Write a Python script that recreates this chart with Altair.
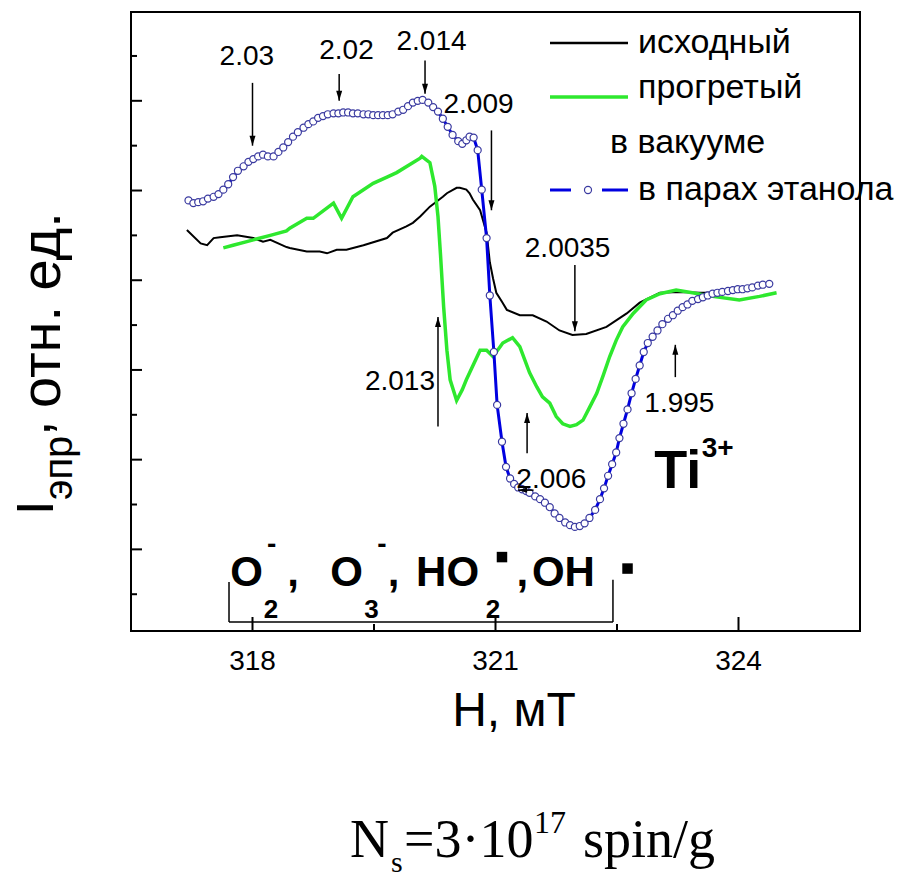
import altair as alt
import pandas as pd

# ---------------- data ----------------
# H, mT  /  I (arb. units)
black_h = [317.19, 317.36, 317.44, 317.52, 317.60, 317.81, 318.01, 318.13, 318.22, 318.42,
           318.46, 318.67, 318.83, 318.92, 319.04, 319.16, 319.37, 319.66, 319.73, 319.90,
           319.98, 320.07, 320.19, 320.35, 320.40, 320.52, 320.56, 320.64, 320.68, 320.72,
           320.81, 320.89, 320.93, 320.97, 321.01, 321.08, 321.14, 321.30, 321.46, 321.63,
           321.79, 321.95, 322.12, 322.37, 322.62, 322.78, 323.03, 323.27, 323.52, 323.68]
black_i = [4.56, 4.41, 4.39, 4.47, 4.48, 4.50, 4.47, 4.43, 4.45, 4.37,
           4.36, 4.32, 4.32, 4.30, 4.34, 4.34, 4.39, 4.47, 4.53, 4.60,
           4.64, 4.71, 4.82, 4.93, 4.97, 5.03, 5.03, 5.01, 4.97, 4.90,
           4.78, 4.53, 4.20, 4.02, 3.86, 3.76, 3.67, 3.61, 3.61, 3.54,
           3.44, 3.39, 3.40, 3.48, 3.63, 3.75, 3.86, 3.87, 3.86, 3.86]

green_h = [317.64, 317.76, 317.93, 318.01, 318.22, 318.42, 318.46, 318.67, 318.75, 319.00,
           319.10, 319.24, 319.49, 319.66, 319.78, 320.07, 320.09, 320.19, 320.25, 320.29,
           320.32, 320.36, 320.40, 320.44, 320.52, 320.59, 320.64, 320.81, 320.89, 320.97,
           321.09, 321.21, 321.30, 321.42, 321.51, 321.58, 321.67, 321.75, 321.83, 321.92,
           322.00, 322.08, 322.16, 322.25, 322.33, 322.41, 322.49, 322.57, 322.70, 322.86,
           323.03, 323.23, 323.43, 323.68, 324.01, 324.26, 324.47]
green_i = [4.36, 4.39, 4.43, 4.45, 4.50, 4.55, 4.58, 4.69, 4.69, 4.86,
           4.69, 4.93, 5.08, 5.15, 5.20, 5.36, 5.38, 5.31, 5.05, 4.71,
           4.30, 3.70, 3.22, 2.89, 2.66, 2.78, 2.89, 3.22, 3.22, 3.15,
           3.30, 3.36, 3.26, 2.97, 2.81, 2.70, 2.63, 2.48, 2.40, 2.37,
           2.39, 2.44, 2.58, 2.74, 2.94, 3.15, 3.33, 3.48, 3.63, 3.78,
           3.85, 3.89, 3.86, 3.82, 3.78, 3.82, 3.86]

blue_h = [317.21, 317.27, 317.33, 317.39, 317.45, 317.52, 317.58, 317.64, 317.70, 317.76,
          317.82, 317.89, 317.95, 318.01, 318.07, 318.13, 318.19, 318.26, 318.32, 318.38,
          318.44, 318.50, 318.56, 318.63, 318.69, 318.75, 318.81, 318.87, 318.93, 319.00,
          319.06, 319.12, 319.18, 319.24, 319.30, 319.37, 319.43, 319.49, 319.55, 319.61,
          319.67, 319.73, 319.80, 319.86, 319.92, 319.98, 320.04, 320.10, 320.17, 320.23,
          320.29, 320.35, 320.41, 320.47, 320.54, 320.59, 320.64, 320.68, 320.73, 320.78,
          320.83, 320.89, 320.93, 320.98, 321.02, 321.08, 321.13, 321.18, 321.23, 321.28,
          321.33, 321.38, 321.42, 321.49, 321.55, 321.61, 321.67, 321.73, 321.79, 321.86,
          321.92, 321.98, 322.04, 322.10, 322.16, 322.23, 322.29, 322.34, 322.39, 322.44,
          322.49, 322.53, 322.58, 322.63, 322.68, 322.73, 322.78, 322.83, 322.88, 322.94,
          323.00, 323.06, 323.13, 323.19, 323.25, 323.31, 323.37, 323.43, 323.50, 323.56,
          323.62, 323.68, 323.74, 323.80, 323.87, 323.93, 323.99, 324.05, 324.11, 324.17,
          324.24, 324.30, 324.38]
blue_i = [4.89, 4.86, 4.87, 4.88, 4.91, 4.93, 4.96, 5.01, 5.07, 5.15,
          5.22, 5.27, 5.32, 5.35, 5.38, 5.40, 5.38, 5.38, 5.43, 5.48,
          5.54, 5.60, 5.65, 5.70, 5.74, 5.77, 5.81, 5.83, 5.85, 5.86,
          5.86, 5.87, 5.87, 5.86, 5.86, 5.85, 5.85, 5.84, 5.84, 5.84,
          5.84, 5.85, 5.88, 5.90, 5.94, 5.98, 6.00, 6.01, 5.98, 5.93,
          5.88, 5.80, 5.71, 5.62, 5.55, 5.52, 5.56, 5.60, 5.59, 5.45,
          5.01, 4.47, 3.83, 3.20, 2.61, 2.20, 1.92, 1.79, 1.73, 1.69,
          1.67, 1.65, 1.63, 1.59, 1.56, 1.52, 1.47, 1.40, 1.35, 1.30,
          1.27, 1.25, 1.26, 1.29, 1.35, 1.44, 1.56, 1.68, 1.82, 1.95,
          2.08, 2.24, 2.40, 2.56, 2.74, 2.90, 3.05, 3.20, 3.30, 3.37,
          3.44, 3.51, 3.57, 3.61, 3.66, 3.70, 3.73, 3.77, 3.79, 3.81,
          3.83, 3.85, 3.86, 3.87, 3.88, 3.89, 3.90, 3.90, 3.91, 3.92,
          3.94, 3.95, 3.96]

# g-factor labels and their arrows
g_text = ["2.03", "2.02", "2.014", "2.009", "2.0035", "2.013", "2.006", "1.995"]
g_h = [317.93, 319.16, 320.21, 320.79, 321.89, 319.82, 321.69, 323.27]
g_i = [6.40, 6.47, 6.57, 5.86, 4.26, 2.78, 1.68, 2.53]
arrow_h = [318.00, 319.07, 320.13, 320.95, 321.98, 320.29, 321.39, 323.22]
arrow_from = [6.20, 6.30, 6.45, 5.67, 4.17, 2.37, 2.07, 2.92]
arrow_to = [5.50, 6.00, 6.08, 4.78, 3.43, 3.59, 2.52, 3.28]
leader_from_h, leader_to_h, leader_i = 321.47, 321.28, 1.66

# axis ticks
x_major = [318, 321, 324]
x_minor = [319.5, 322.5]
y_major = [1, 2, 3, 4, 5, 6]
y_minor = [0.5, 1.5, 2.5, 3.5, 4.5, 5.5, 6.5]

# ---------------- styling ----------------
SANS = "Liberation Sans, Arial, sans-serif"
SERIF = "Liberation Serif, Times New Roman, serif"
GREEN = "#2ee82e"
BLUE = "#0000e0"
NAVY = "#3a3aa0"
W, H = 729, 619

xs = alt.Scale(domain=[316.5, 325.5], nice=False, zero=False)
ys = alt.Scale(domain=[0.09, 6.99], nice=False, zero=False)


def X(f):
    return alt.X(f, type="quantitative", scale=xs, axis=None)


def Y(f):
    return alt.Y(f, type="quantitative", scale=ys, axis=None)


ONE = alt.Data(values=[{"k": 0}])


def ptext(txt, x, y, size, font=SANS, angle=0, weight="normal", align="left"):
    return alt.Chart(ONE).mark_text(text=txt, font=font, fontSize=size, angle=angle,
                                    fontWeight=weight, align=align, baseline="alphabetic",
                                    color="black").encode(x=alt.value(x), y=alt.value(y))


def dtext(txt, h, i, size, weight="bold", align="left", font=SANS):
    return alt.Chart(pd.DataFrame({"h": [h], "i": [i]})).mark_text(
        text=txt, font=font, fontSize=size, fontWeight=weight,
        align=align, baseline="alphabetic", color="black").encode(x=X("h"), y=Y("i"))


layers = []

# inward ticks
layers.append(alt.Chart(pd.DataFrame({"v": x_major})).mark_rule(color="black", strokeWidth=2).encode(
    x=X("v"), y=alt.value(H), y2=alt.value(H - 14)))
layers.append(alt.Chart(pd.DataFrame({"v": x_minor})).mark_rule(color="black", strokeWidth=2).encode(
    x=X("v"), y=alt.value(H), y2=alt.value(H - 7)))
layers.append(alt.Chart(pd.DataFrame({"v": y_major})).mark_rule(color="black", strokeWidth=2).encode(
    y=Y("v"), x=alt.value(0), x2=alt.value(11)))
layers.append(alt.Chart(pd.DataFrame({"v": y_minor})).mark_rule(color="black", strokeWidth=2).encode(
    y=Y("v"), x=alt.value(0), x2=alt.value(6)))
# x tick labels
layers.append(alt.Chart(pd.DataFrame({"v": x_major})).mark_text(
    font=SANS, fontSize=28, align="center", baseline="alphabetic", color="black").encode(
    x=X("v"), y=alt.value(H + 39), text=alt.Text("v:Q", format="d")))

# spectra
layers.append(alt.Chart(pd.DataFrame({"h": black_h, "i": black_i})).mark_line(
    color="black", strokeWidth=2).encode(x=X("h"), y=Y("i")))
layers.append(alt.Chart(pd.DataFrame({"h": green_h, "i": green_i})).mark_line(
    color=GREEN, strokeWidth=3.5).encode(x=X("h"), y=Y("i")))
blue_df = pd.DataFrame({"h": blue_h, "i": blue_i})
layers.append(alt.Chart(blue_df).mark_line(color=BLUE, strokeWidth=3).encode(x=X("h"), y=Y("i")))
layers.append(alt.Chart(blue_df).mark_point(shape="circle", filled=True, fill="white", stroke=NAVY,
                                            strokeWidth=1.2, size=50, opacity=1).encode(
    x=X("h"), y=Y("i")))

# arrows
arr = pd.DataFrame({"h": arrow_h, "a": arrow_from, "b": arrow_to})
layers.append(alt.Chart(arr).mark_rule(color="black", strokeWidth=1.5).encode(
    x=X("h"), y=Y("a"), y2=alt.Y2("b")))
down = arr[arr["b"] < arr["a"]].reset_index(drop=True)
up = arr[arr["b"] > arr["a"]].reset_index(drop=True)
layers.append(alt.Chart(down).mark_point(shape="M -0.6 -2 L 0.6 -2 L 0 0 Z", filled=True, size=100,
                                         color="black", opacity=1).encode(x=X("h"), y=Y("b")))
layers.append(alt.Chart(up).mark_point(shape="M -0.6 2 L 0.6 2 L 0 0 Z", filled=True, size=100,
                                       color="black", opacity=1).encode(x=X("h"), y=Y("b")))
lead = pd.DataFrame({"h1": [leader_from_h], "h2": [leader_to_h], "i": [leader_i]})
layers.append(alt.Chart(lead).mark_rule(color="black", strokeWidth=1.5).encode(
    x=X("h1"), x2=alt.X2("h2"), y=Y("i")))
layers.append(alt.Chart(lead).mark_point(shape="M 2 -0.6 L 2 0.6 L 0 0 Z", filled=True, size=80,
                                         color="black", opacity=1).encode(x=X("h2"), y=Y("i")))

# g-factor labels
layers.append(alt.Chart(pd.DataFrame({"t": g_text, "h": g_h, "i": g_i})).mark_text(
    font=SANS, fontSize=28, align="center", baseline="alphabetic", color="black").encode(
    x=X("h"), y=Y("i"), text="t:N"))

# Ti3+
layers.append(dtext("Ti", 323.25, 1.68, 54, align="center"))
layers.append(dtext("3+", 323.545, 2.03, 28))

# radicals label with bracket
for t, h, i, s in [("O", 317.725, 0.59, 42), ("2", 318.14, 0.234, 26), ("-", 318.18, 0.96, 28),
                   (",", 318.43, 0.59, 42), ("O", 318.96, 0.59, 42), ("3", 319.38, 0.234, 26),
                   ("-", 319.54, 0.96, 28), (",", 319.67, 0.59, 42), ("HO", 320.02, 0.59, 42),
                   ("2", 320.88, 0.234, 26), (",", 321.26, 0.59, 42), ("OH", 321.45, 0.59, 42)]:
    layers.append(dtext(t, h, i, s))
dots = pd.DataFrame({"h": [321.08, 322.63], "i": [0.914, 0.786]})
layers.append(alt.Chart(dots).mark_point(shape="square", filled=True, size=110, color="black",
                                         opacity=1).encode(x=X("h"), y=Y("i")))
br = pd.DataFrame({"h1": [317.71, 317.71, 322.45], "h2": [317.71, 322.45, 322.45],
                   "i1": [0.635, 0.19, 0.19], "i2": [0.19, 0.19, 0.66]})
layers.append(alt.Chart(br).mark_rule(color="black", strokeWidth=1.5).encode(
    x=X("h1"), x2=alt.X2("h2"), y=Y("i1"), y2=alt.Y2("i2")))

# legend
layers.append(alt.Chart(ONE).mark_rule(color="black", strokeWidth=2.5).encode(
    x=alt.value(419), x2=alt.value(497), y=alt.value(31)))
layers.append(alt.Chart(ONE).mark_rule(color=GREEN, strokeWidth=3.5).encode(
    x=alt.value(419), x2=alt.value(497), y=alt.value(85)))
layers.append(alt.Chart(ONE).mark_rule(color=BLUE, strokeWidth=3).encode(
    x=alt.value(419), x2=alt.value(440), y=alt.value(178)))
layers.append(alt.Chart(ONE).mark_rule(color=BLUE, strokeWidth=3).encode(
    x=alt.value(471), x2=alt.value(497), y=alt.value(178)))
layers.append(alt.Chart(ONE).mark_point(shape="circle", filled=True, fill="white", stroke=NAVY,
                                        strokeWidth=1.2, size=50, opacity=1).encode(
    x=alt.value(457), y=alt.value(178)))
layers.append(ptext("исходный", 507, 41, 34))
layers.append(ptext("прогретый", 507, 86, 34))
layers.append(ptext("в вакууме", 479, 141, 34))
layers.append(ptext("в парах этанола", 507, 188, 34))

# axis titles
layers.append(ptext("H, мТ", 383, 714, 48, align="center"))
layers.append(ptext("I", -78, 503, 52, angle=270))
layers.append(ptext("эпр", -59, 488, 40, angle=270))
layers.append(ptext(",", -81, 424, 56, angle=270))
layers.append(ptext("отн. ед.", -71, 396, 56, angle=270))

# spin concentration
layers.append(ptext("N", 219, 845, 54, font=SERIF))
layers.append(ptext("s", 260, 860, 30, font=SERIF))
layers.append(ptext("=3·10", 273, 845, 54, font=SERIF))
layers.append(ptext("17", 403, 821, 32, font=SERIF))
layers.append(ptext("spin/g", 452, 845, 54, font=SERIF))

chart = alt.layer(*layers).properties(
    width=W, height=H,
    padding={"left": 131, "top": 12, "right": 38, "bottom": 247},
    autosize=alt.AutoSizeParams(type="none"),
    background="white",
).configure_view(stroke="black", strokeWidth=2)

chart.save("out.html", embed_options={"renderer": "svg", "actions": False})
